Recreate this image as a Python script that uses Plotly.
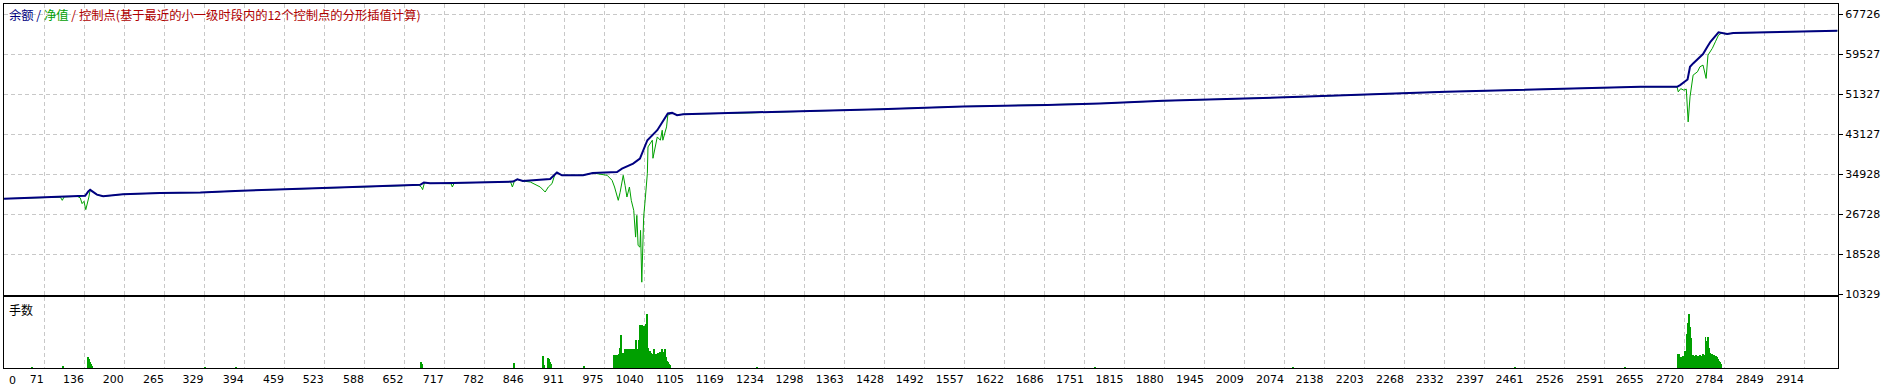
import plotly.graph_objects as go

# ---------------- data ----------------
balance_trade = [6, 53, 124, 137, 142, 145, 156, 166, 198, 258, 323, 389, 484, 568, 613,
                 678, 684, 694, 731, 775, 828, 835, 844, 888, 896, 899, 907, 941, 957, 996,
                 1004, 1022, 1033, 1045, 1061, 1070, 1078, 1085, 1093, 1103, 1211, 1292, 1421,
                 1555, 1691, 1776, 1878, 1991, 2099, 2335, 2649, 2708, 2713, 2725, 2729, 2734,
                 2750, 2757, 2762, 2775, 2781, 2789, 2799, 2863, 2928, 2967]
balance_value = [29946, 30151, 30418, 30520, 31443, 31750, 30766, 30418, 30828, 31094, 31176,
                 31566, 31955, 32263, 32529, 32775, 33226, 33083, 33144, 33288, 33431, 33903,
                 33554, 33964, 35071, 35276, 34723, 34723, 35194, 35399, 36096, 37121, 38146,
                 41897, 43947, 45649, 47370, 47493, 47022, 47227, 47493, 47842, 48252, 48805,
                 49133, 49420, 49953, 50302, 50773, 51819, 52823, 52823, 53172, 54340, 56923,
                 57620, 59526, 61023, 62048, 63975, 63770, 63626, 63831, 63975, 64241, 64303]

equity_trade = [6, 53, 97, 100, 103, 124, 129, 132, 135, 138, 140, 143, 145, 156, 166, 198,
                258, 323, 389, 484, 568, 613, 676, 680, 682, 685, 694, 728, 730, 733, 775,
                824, 827, 830, 835, 844, 856, 872, 880, 885, 891, 896, 899, 907, 941, 957,
                980, 988, 992, 998, 1001, 1006, 1009, 1012, 1016, 1019, 1023, 1025, 1026,
                1028, 1030, 1033, 1034, 1036, 1038, 1039, 1041, 1045, 1046, 1053, 1054, 1061,
                1066, 1069, 1070, 1076, 1078, 1085, 1093, 1103, 1211, 1292, 1421, 1555, 1691,
                1776, 1878, 1991, 2099, 2335, 2649, 2708, 2710, 2714, 2719, 2723, 2726, 2729,
                2734, 2741, 2745, 2750, 2755, 2758, 2765, 2770, 2775, 2780, 2789, 2799, 2863,
                2928, 2967]
equity_value = [29946, 30151, 30250, 29598, 30300, 30418, 30110, 28921, 29393, 27691, 28573,
                30274, 31750, 30766, 30418, 30828, 31094, 31176, 31566, 31955, 32263, 32529,
                32700, 32300, 31791, 33226, 33083, 33000, 32324, 33144, 33288, 33400, 32324,
                33431, 33903, 33554, 33349, 32324, 31299, 32324, 33021, 35071, 35276, 34723,
                34723, 35194, 34723, 33698, 32324, 29598, 31238, 34723, 32673, 30274, 32324,
                29598, 27548, 24473, 22075, 26523, 20373, 20025, 23448, 12850, 21398, 26174,
                28983, 35133, 40524, 41897, 38207, 42574, 41897, 43947, 41897, 44624, 47022,
                47493, 47022, 47227, 47493, 47842, 48252, 48805, 49133, 49420, 49953, 50302,
                50773, 51819, 52823, 52823, 51798, 52454, 52147, 52352, 45649, 50773, 55222,
                55898, 56923, 57272, 54545, 59322, 60695, 62048, 63421, 63831, 63626, 63831,
                63975, 64241, 64303]

lots_trade = [51, 101, 142, 143, 145, 146, 148, 331, 381, 680, 681, 830, 877, 878, 885, 886,
              888, 889, 943,
              991, 993, 994, 996, 998, 999, 1001, 1003, 1004, 1006, 1007, 1009, 1011, 1012,
              1014, 1015, 1017, 1019, 1020, 1022, 1024, 1025, 1027, 1028, 1030, 1032, 1033,
              1035, 1036, 1038, 1040, 1041, 1043, 1045, 1046, 1048, 1049, 1051, 1053, 1054,
              1056, 1057, 1059, 1061, 1062, 1064, 1065, 1067, 1069, 1070, 1072, 1074, 1075,
              1077, 1078, 1080, 1082,
              1222, 1768, 2088, 2447, 2624,
              2710, 2712, 2713, 2715, 2716, 2718, 2720, 2721, 2723, 2724, 2726, 2728, 2729,
              2731, 2733, 2734, 2736, 2737, 2739, 2741, 2742, 2744, 2745, 2747, 2749, 2750,
              2752, 2754, 2755, 2757, 2758, 2760, 2762, 2763, 2765, 2766, 2768, 2770, 2771,
              2773, 2775, 2776, 2778, 2779]
lots_value = [0.1, 0.2, 1.1, 0.9, 0.6, 0.4, 0.2, 0.1, 0.1, 0.6, 0.4, 0.5, 1.2, 0.3, 1.0, 0.9,
              0.6, 0.4, 0.2,
              1.3, 1.3, 1.2, 1.3, 0.0, 1.4, 2.0, 3.3, 1.4, 1.5, 0.0, 1.9, 0.0, 1.9, 0.0, 1.9,
              0.0, 1.9, 0.0, 1.9, 0.0, 1.9, 2.8, 1.9, 0.0, 2.8, 4.3, 4.3, 4.3, 4.2, 4.2, 4.0,
              4.4, 5.4, 2.0, 1.5, 1.7, 1.5, 1.4, 1.3, 1.9, 1.2, 1.4, 1.3, 1.5, 1.3, 1.6, 1.2,
              1.9, 1.6, 1.3, 1.9, 1.1, 0.7, 0.6, 0.4, 0.3,
              0.1, 0.1, 0.1, 0.1, 0.1,
              1.4, 1.4, 1.0, 1.1, 1.0, 1.2, 1.0, 1.7, 1.6, 3.4, 4.5, 5.4, 4.1, 3.0, 1.2, 1.3,
              1.2, 1.1, 1.3, 1.2, 1.2, 1.1, 1.3, 1.2, 1.1, 1.4, 1.3, 3.1, 2.2, 2.7, 3.1, 2.0,
              1.5, 1.4, 1.4, 1.3, 1.3, 1.2, 1.2, 1.1, 0.9, 0.7, 0.6, 0.4]

y_ticks = [10329, 18528, 26728, 34928, 43127, 51327, 59527, 67726]
x_first_label = "0"
x_tick_labels = ["71", "136", "200", "265", "329", "394", "459", "523", "588", "652", "717",
                 "782", "846", "911", "975", "1040", "1105", "1169", "1234", "1298", "1363",
                 "1428", "1492", "1557", "1622", "1686", "1751", "1815", "1880", "1945",
                 "2009", "2074", "2138", "2203", "2268", "2332", "2397", "2461", "2526",
                 "2591", "2655", "2720", "2784", "2849", "2914"]
legend_parts = [("余额", "#000080"), (" / ", "#000080"), ("净值", "#00A000"), (" / ", "#B00000"),
                ("控制点(基于最近的小一级时段内的12个控制点的分形插值计算)", "#B00000")]
volume_title = "手数"

# ---------------- styling ----------------
W, H = 1890, 387
ML, MR, MT, MB = 4, 52, 4, 19
PH = H - MT - MB
PW = W - ML - MR
main_bottom_px = 295
vol_top_px = 297
x_range = [5.9, 2968]
y_range = [10226, 69776]
vol_range = [0, 7.1]
GRID = "#C8C8C8"
TICK_FONT = dict(family="DejaVu Sans", size=11, color="#000000")
x_tickvals = [int(t) for t in x_tick_labels]

fig = go.Figure()
fig.add_trace(go.Scatter(x=equity_trade, y=equity_value, mode="lines",
                         line=dict(color="#00A000", width=1), xaxis="x", yaxis="y",
                         hoverinfo="skip"))
fig.add_trace(go.Scatter(x=balance_trade, y=balance_value, mode="lines",
                         line=dict(color="#000080", width=2), xaxis="x", yaxis="y",
                         hoverinfo="skip"))
fig.add_trace(go.Bar(x=lots_trade, y=lots_value, width=1.6,
                     marker=dict(color="#00A000", line=dict(width=0)),
                     xaxis="x2", yaxis="y2", hoverinfo="skip"))

main_dom = [(H - MB - main_bottom_px) / PH, 1]
vol_dom = [0, (H - MB - vol_top_px) / PH]

axis_common = dict(showline=True, linecolor="#000000", linewidth=1, mirror=True,
                   zeroline=False, automargin=False)

fig.update_layout(
    width=W, height=H, margin=dict(l=ML, r=MR, t=MT, b=MB, autoexpand=False),
    paper_bgcolor="#FFFFFF", plot_bgcolor="#FFFFFF", showlegend=False,
    bargap=0,
    xaxis=dict(domain=[0, 1], range=x_range, anchor="y", tickvals=x_tickvals,
               showticklabels=False, ticks="", showgrid=True, gridcolor=GRID,
               griddash="4px,3px", gridwidth=1, **axis_common),
    yaxis=dict(domain=main_dom, range=y_range, anchor="x", side="right",
               tickvals=y_ticks, ticktext=[str(v) for v in y_ticks], ticks="outside",
               ticklen=4, tickcolor="#000000", tickfont=TICK_FONT, showgrid=True,
               gridcolor=GRID, griddash="4px,3px", gridwidth=1, **axis_common),
    xaxis2=dict(domain=[0, 1], range=x_range, anchor="y2", tickvals=x_tickvals,
                ticktext=x_tick_labels, ticklabelposition="outside left", ticks="",
                tickfont=TICK_FONT, ticklabelstandoff=1,
                showgrid=True, gridcolor=GRID, griddash="4px,3px", gridwidth=1,
                **axis_common),
    yaxis2=dict(domain=vol_dom, range=vol_range, anchor="x2", showticklabels=False,
                ticks="", showgrid=False, **axis_common),
)

legend_html = "".join(f'<span style="color:{c}">{t}</span>' for t, c in legend_parts)
fig.add_annotation(xref="paper", yref="paper", x=(7 - ML) / PW,
                   y=1 - (15 - MT) / PH, xanchor="left", yanchor="middle", showarrow=False,
                   text=legend_html,
                   font=dict(family="Noto Sans CJK SC", size=12.3))
fig.add_annotation(xref="paper", yref="paper", x=(7 - ML) / PW,
                   y=1 - (309 - MT) / PH, xanchor="left", yanchor="middle", showarrow=False,
                   text=volume_title, font=dict(family="Noto Sans CJK SC", size=12, color="#000000"))
# the "0" label at the start of the trade axis
fig.add_annotation(xref="paper", yref="paper", x=0, y=-(380 - (H - MB)) / PH, xanchor="left",
                   yanchor="middle", xshift=3, showarrow=False, text=x_first_label,
                   font=TICK_FONT)

fig.write_html("out.html")
